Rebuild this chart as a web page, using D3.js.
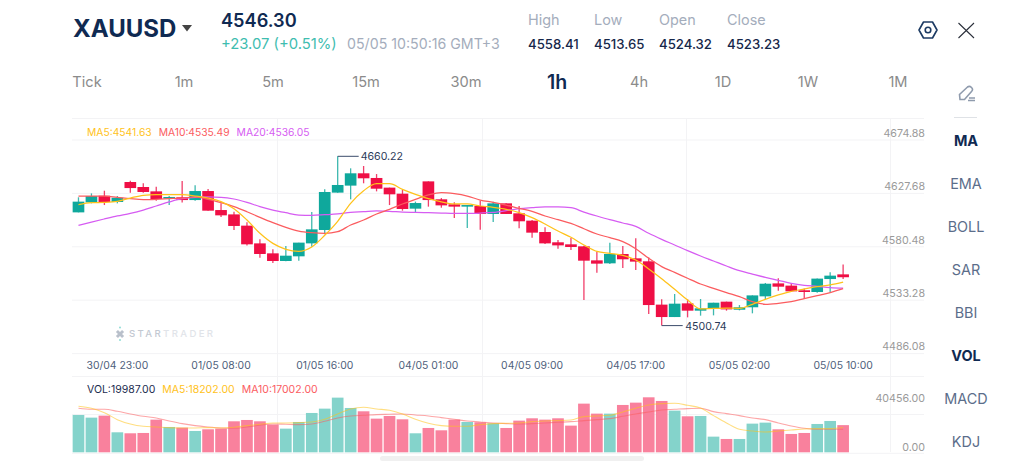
<!DOCTYPE html>
<html>
<head>
<meta charset="utf-8">
<title>XAUUSD</title>
<script src="https://cdn.jsdelivr.net/npm/d3@7/dist/d3.min.js"></script>
<style>
  html, body { margin: 0; padding: 0; background: #fff; overflow: hidden; }
  svg { display: block; }
  text { font-family: Inter, "Open Sans", sans-serif; }
</style>
</head>
<body>
<svg id="chart" width="1024" height="471"></svg>
<script>
// One row per hourly candle: open, high, low, close
const candles = [
  [4607.4,4621.6,4607.4,4617.5],[4616.8,4625.3,4615.9,4622.8],[4623.1,4627.8,4614.3,4617.2],[4617.2,4622.8,4615.9,4621.2],
  [4636.0,4637.3,4625.9,4630.3],[4631.3,4634.8,4625.9,4626.6],[4627.2,4631.6,4618.4,4620.0],[4620.3,4622.8,4614.3,4621.9],
  [4621.6,4636.9,4616.8,4619.0],[4619.0,4632.9,4618.4,4627.5],[4627.5,4629.4,4609.0,4609.0],[4609.6,4615.9,4603.0,4604.6],
  [4605.5,4608.0,4590.8,4594.6],[4594.9,4598.0,4576.3,4577.3],[4578.2,4582.0,4564.7,4568.2],[4568.8,4572.6,4559.7,4561.6],
  [4561.6,4575.7,4561.3,4566.6],[4566.0,4578.9,4561.9,4578.9],[4578.2,4607.7,4575.1,4591.4],[4590.8,4629.1,4586.7,4626.6],
  [4626.0,4660.22,4626.0,4633.2],[4632.6,4648.9,4619.7,4644.2],[4644.2,4651.1,4634.8,4639.5],[4639.8,4643.5,4627.2,4629.7],
  [4630.7,4630.7,4614.3,4624.4],[4625.0,4628.5,4609.0,4610.6],[4610.9,4617.5,4607.4,4616.2],[4636.6,4636.6,4612.8,4619.0],
  [4619.7,4620.9,4611.8,4614.0],[4615.0,4616.9,4602.1,4612.8],[4612.8,4614.3,4592.7,4614.3],[4613.4,4618.4,4591.1,4605.9],
  [4605.9,4617.5,4598.3,4615.9],[4615.9,4615.9,4605.9,4605.9],[4606.5,4613.4,4592.4,4599.0],[4599.6,4600.2,4583.6,4588.3],
  [4588.9,4593.3,4577.6,4578.2],[4579.2,4581.4,4573.2,4576.3],[4577.3,4583.3,4572.0,4574.8],[4575.4,4576.0,4524.8,4561.9],
  [4562.2,4570.1,4550.6,4559.1],[4559.4,4578.9,4558.8,4568.2],[4568.2,4575.7,4555.0,4563.2],[4564.1,4583.0,4553.1,4561.0],
  [4561.3,4565.0,4511.7,4520.1],[4520.5,4525.5,4500.74,4508.8],[4508.8,4530.5,4508.8,4521.4],[4521.7,4525.5,4508.5,4514.8],
  [4514.8,4525.8,4510.1,4517.0],[4516.7,4522.3,4510.4,4522.3],[4523.3,4523.3,4514.8,4516.0],[4515.7,4520.1,4515.1,4518.0],
  [4518.0,4529.2,4512.3,4529.2],[4528.3,4540.9,4525.5,4540.2],[4540.5,4545.3,4533.6,4537.4],[4538.4,4540.5,4532.4,4533.0],
  [4534.0,4535.8,4526.1,4532.4],[4532.4,4545.0,4531.8,4545.0],[4544.6,4550.9,4532.4,4547.8],[4549.0,4558.41,4544.6,4546.30]
];

const ma5 = [4614.7,4616.5,4616.8,4617.8,4620.9,4623.5,4624.1,4624.1,4624.1,4622.8,4620.9,4617.5,4610.9,4600.2,4587.7,4578.2,4572.6,4570.7,4574.8,4585.8,4599.0,4615.9,4627.8,4634.4,4634.4,4629.1,4624.4,4620.3,4617.2,4615.3,4615.3,4613.4,4612.1,4610.3,4607.1,4602.4,4596.4,4589.8,4583.9,4576.7,4570.7,4568.8,4566.9,4562.5,4554.1,4544.9,4534.9,4524.9,4516.4,4517.0,4517.3,4517.0,4520.8,4525.5,4529.6,4533.0,4535.2,4537.4,4539.0,4541.63];
const ma10 = [4622.8,4622.8,4622.8,4621.6,4620.3,4619.4,4619.7,4620.3,4620.9,4621.9,4619.7,4616.5,4612.8,4608.0,4602.7,4597.7,4593.3,4589.8,4588.3,4587.7,4589.2,4595.5,4600.2,4605.9,4610.3,4615.3,4619.7,4623.8,4626.0,4625.0,4622.8,4619.0,4616.9,4614.3,4611.2,4608.4,4604.0,4600.5,4597.0,4592.0,4587.0,4583.6,4579.8,4573.2,4564.1,4556.3,4550.9,4545.3,4539.9,4535.8,4531.8,4528.0,4523.3,4520.8,4521.7,4523.3,4526.1,4528.9,4531.8,4535.49];
const ma20 = [4595.2,4598.3,4601.2,4604.0,4606.5,4609.6,4613.4,4617.2,4620.3,4621.6,4621.9,4621.6,4620.0,4616.8,4612.8,4609.6,4607.1,4604.9,4604.6,4605.2,4605.9,4607.4,4608.0,4608.7,4608.4,4607.7,4607.4,4607.1,4606.8,4606.5,4606.5,4606.8,4607.4,4609.0,4610.9,4611.8,4612.5,4612.5,4611.8,4607.7,4604.0,4600.5,4597.4,4594.2,4587.7,4582.0,4576.7,4571.3,4566.3,4561.6,4556.9,4552.5,4549.3,4546.2,4543.4,4540.5,4538.7,4537.7,4536.5,4536.05];

const volumes = [27460,25500,26970,14710,13980,14220,24030,18630,18140,15690,16920,17410,22800,23780,22800,20350,17410,22310,28930,32120,40210,32610,30160,24760,26730,24270,13980,17900,16180,24030,22310,22070,21330,17900,23290,25010,24030,25010,19620,35800,28440,28440,34820,36530,40456,37760,30650,26480,26730,11520,9810,9810,21090,21820,16920,13490,14220,20840,23050,19987];
const volMa5 = [33840,32370,29180,24030,20840,19130,18640,18140,17900,17900,18140,17900,18390,19620,20600,21580,21580,21820,22310,24270,28200,31880,33100,31880,30900,28200,24270,21330,19620,19130,19130,20350,21090,21330,21580,22560,23050,23290,23780,26240,26730,27220,29670,32370,34820,35800,36040,34570,32610,26970,21580,16920,15690,14960,15690,16430,17160,17410,17410,18202];
const volMa10 = [32370,31630,31630,30160,28200,26480,25260,23050,21090,19620,18640,17900,17650,18640,19860,20840,20600,20350,20840,22800,25260,26730,27220,27710,27950,28200,27460,26730,25500,24270,23050,22310,21580,21090,20840,21090,21580,22070,22560,23290,24030,24770,26480,28200,29670,31140,31630,32120,32370,29910,28440,26970,25260,24030,21580,19370,17650,16920,16920,17002];

const volumeUp = [1,1,0,1,0,0,0,1,0,1,0,0,0,0,0,0,1,1,1,1,1,1,0,0,0,0,1,0,0,0,1,0,1,0,0,0,0,0,0,0,0,1,0,0,0,0,1,0,1,1,0,1,1,1,0,0,0,1,1,0];

const priceTicks = ["4674.88", "4627.68", "4580.48", "4533.28", "4486.08"];
const volumeTicks = [40456, 0];
const timeTicks = [[3,"30/04 23:00"],[11,"01/05 08:00"],[19,"01/05 16:00"],[27,"04/05 01:00"],[35,"04/05 09:00"],[43,"04/05 17:00"],[51,"05/05 02:00"],[59,"05/05 10:00"]];
const intervals = ["Tick","1m","5m","15m","30m","1h","4h","1D","1W","1M"];
const indicators = ["MA","EMA","BOLL","SAR","BBI","VOL","MACD","KDJ"];
const activeIndicators = ["MA","VOL"];
const quoteFields = [["High","4558.41"],["Low","4513.65"],["Open","4524.32"],["Close","4523.23"]];
const priceLegend = [["MA5:4541.63","#ffc21a"],["MA10:4535.49","#fb5c5f"],["MA20:4536.05","#d65cf2"]];
const volumeLegend = [["VOL:19987.00","#1c2d4f"],["MA5:18202.00","#ffc21a"],["MA10:17002.00","#fb5c5f"]];
const HIGH_LABEL = 4660.22, LOW_LABEL = 4500.74;

const UP = "#0fa89c", DOWN = "#ef0f45";
const UP_VOL = "#84d3cb", DOWN_VOL = "#f9819d";
const MA5_C = "#ffc21a", MA10_C = "#fb5c5f", MA20_C = "#d65cf2";
const NAVY = "#0f2a52", GRID = "#f3f3f5";

const svg = d3.select("#chart");
const LEFT = 72, RIGHT_GRID = 924, STEP = 12.96;

// Time, price and volume scales
const x = d3.scaleBand().domain(d3.range(candles.length)).range([LEFT, LEFT + STEP * candles.length]).paddingInner(0.1).paddingOuter(0.05);
const cx = i => x(i) + x.bandwidth() / 2;
const y = d3.scaleLinear().domain([LOW_LABEL, HIGH_LABEL]).range([325.6, 156.3]);
const axisY = d3.scalePoint().domain(priceTicks).range([139, 352.6]);
const volY = d3.scaleLinear().domain([0, 40456]).range([452.3, 397.3]);

// Frame lines and vertical separators
const grid = svg.append("g").attr("stroke", GRID).attr("stroke-width", 1);
[118.5, 376.5, 414.5].forEach(v => grid.append("line").attr("x1", LEFT).attr("x2", RIGHT_GRID).attr("y1", v).attr("y2", v));
[277.5, 482.5, 686.5, 890.5].forEach(v => grid.append("line").attr("x1", v).attr("x2", v).attr("y1", 118).attr("y2", 452));

// Right-hand price axis; its tick lines double as the horizontal grid
const priceAxis = svg.append("g").attr("transform", `translate(${RIGHT_GRID},0.5)`)
  .call(d3.axisRight(axisY).tickSizeInner(LEFT - RIGHT_GRID).tickSizeOuter(0));
priceAxis.select(".domain").remove();
priceAxis.selectAll("line").attr("stroke", GRID);
priceAxis.selectAll("text").attr("x", 1).attr("dy", "-3.2px").attr("text-anchor", "end")
  .attr("fill", "#9a9a9a").style("font-size", "10.7px").style("font-family", "Inter, sans-serif");

// Volume axis
const volumeAxis = svg.append("g").attr("transform", `translate(${RIGHT_GRID},0.5)`)
  .call(d3.axisRight(volY).tickValues(volumeTicks).tickSizeInner(LEFT - RIGHT_GRID).tickSizeOuter(0).tickFormat(d3.format(".2f")));
volumeAxis.select(".domain").remove();
volumeAxis.selectAll("line").attr("stroke", GRID).attr("opacity", d => d === 0 ? 1 : 0);
volumeAxis.selectAll("text").attr("x", 1).attr("text-anchor", "end")
  .attr("dy", d => d === 0 ? "-2.6px" : "3.6px")
  .attr("fill", "#9a9a9a").style("font-size", "10.7px").style("font-family", "Inter, sans-serif");

// Watermark: emblem, then the two-tone word mark
const mark = svg.append("g");
mark.append("path").attr("transform", "translate(120,334) rotate(45)").attr("fill", "#b9c0cb")
  .attr("d", d3.symbol(d3.symbolCross, 42)());
mark.append("circle").attr("cx", 120).attr("cy", 327.5).attr("r", 1).attr("fill", "#8fdcd6");
mark.append("circle").attr("cx", 120).attr("cy", 340).attr("r", 1).attr("fill", "#8fdcd6");
const word = mark.append("text").attr("x", 129).attr("y", 337).attr("font-size", 9.6).attr("font-weight", 500).attr("letter-spacing", "2.35px");
word.append("tspan").attr("fill", "#c3c9d2").text("STAR");
word.append("tspan").attr("fill", "#e1e4e9").text("TRADER");

// Candles
const candle = svg.append("g").selectAll("g").data(candles).join("g");
candle.append("line")
  .attr("x1", (d, i) => cx(i)).attr("x2", (d, i) => cx(i))
  .attr("y1", d => y(d[1])).attr("y2", d => y(d[2]))
  .attr("stroke", d => d[3] >= d[0] ? UP : DOWN).attr("stroke-width", 1.3).attr("opacity", 0.8);
candle.append("rect")
  .attr("x", (d, i) => x(i)).attr("width", x.bandwidth())
  .attr("y", d => y(Math.max(d[0], d[3])))
  .attr("height", d => Math.max(1.5, Math.abs(y(d[0]) - y(d[3]))))
  .attr("fill", d => d[3] >= d[0] ? UP : DOWN);

// Moving averages over the price pane
const priceLine = d3.line().x((d, i) => cx(i)).y(d => y(d)).curve(d3.curveMonotoneX);
[[ma20, MA20_C], [ma10, MA10_C], [ma5, MA5_C]].forEach(([series, color]) => {
  svg.append("path").attr("d", priceLine(series)).attr("fill", "none").attr("stroke", color).attr("stroke-width", 1.25);
});

// Callouts for the visible high and low
const highIndex = candles.findIndex(d => d[1] === HIGH_LABEL);
const lowIndex = candles.findIndex(d => d[2] === LOW_LABEL);
svg.append("line").attr("x1", cx(highIndex)).attr("x2", cx(highIndex) + 21).attr("y1", y(HIGH_LABEL)).attr("y2", y(HIGH_LABEL)).attr("stroke", "#3b4c6b");
svg.append("text").attr("x", cx(highIndex) + 23).attr("y", y(HIGH_LABEL) + 4).attr("font-size", 10.6).attr("fill", "#2b3a58").text(HIGH_LABEL.toFixed(2));
svg.append("line").attr("x1", cx(lowIndex)).attr("x2", cx(lowIndex) + 21).attr("y1", y(LOW_LABEL)).attr("y2", y(LOW_LABEL)).attr("stroke", "#3b4c6b");
svg.append("text").attr("x", cx(lowIndex) + 23.5).attr("y", y(LOW_LABEL) + 4).attr("font-size", 10.6).attr("fill", "#2b3a58").text(LOW_LABEL.toFixed(2));

// Legends
const legend = (items, startX, baseline, size) => {
  const t = svg.append("text").attr("x", startX).attr("y", baseline).attr("font-size", size);
  items.forEach((it, i) => t.append("tspan").attr("dx", i ? 7 : 0).attr("fill", it[1]).text(it[0]));
};
legend(priceLegend, 87, 136, 10.3);
legend(volumeLegend, 87, 393, 10.5);

// Time labels
svg.append("g").selectAll("text").data(timeTicks).join("text")
  .attr("x", d => cx(d[0])).attr("y", 369).attr("text-anchor", "middle")
  .attr("font-size", 10.4).attr("fill", "#4f5f7c").text(d => d[1]);

// Volume bars and their averages
svg.append("g").selectAll("rect").data(volumes).join("rect")
  .attr("x", (d, i) => x(i)).attr("width", x.bandwidth())
  .attr("y", d => volY(d)).attr("height", d => volY(0) - volY(d))
  .attr("fill", (d, i) => volumeUp[i] ? UP_VOL : DOWN_VOL);
const volLine = d3.line().x((d, i) => cx(i)).y(d => volY(d)).curve(d3.curveMonotoneX);
[[volMa10, MA10_C], [volMa5, MA5_C]].forEach(([series, color]) => {
  svg.append("path").attr("d", volLine(series)).attr("fill", "none").attr("stroke", color).attr("stroke-width", 1.1).attr("opacity", 0.55);
});

// Scrollbar under the volume pane
svg.append("rect").attr("x", 380).attr("y", 456).attr("width", 264).attr("height", 5).attr("rx", 2.5).attr("fill", "#f0f0f0");

// Quote header
svg.append("text").attr("x", 73).attr("y", 37).attr("font-size", 24).attr("font-weight", 700).attr("fill", NAVY).text("XAUUSD");
svg.append("path").attr("d", d3.line()([[182, 25], [192, 25], [187, 31.5]])).attr("fill", "#444");
svg.append("text").attr("x", 221).attr("y", 27).attr("font-size", 18.2).attr("font-weight", 600).attr("fill", NAVY).text("4546.30");
svg.append("text").attr("x", 221).attr("y", 49).attr("font-size", 14.8).attr("fill", "#3fbdb0").text("+23.07 (+0.51%)");
svg.append("text").attr("x", 347).attr("y", 49).attr("font-size", 14.2).attr("fill", "#a4adbc").text("05/05 10:50:16 GMT+3");
quoteFields.forEach((f, i) => {
  const fx = [528, 594, 659, 727][i];
  svg.append("text").attr("x", fx).attr("y", 25).attr("font-size", 14.4).attr("fill", "#a4adbc").text(f[0]);
  svg.append("text").attr("x", fx).attr("y", 49).attr("font-size", 13.2).attr("font-weight", 500).attr("fill", "#16274a").text(f[1]);
});

// Settings and close icons
svg.append("path").attr("transform", "translate(928,30)")
  .attr("d", "M-4.5,-8 L4.5,-8 L9,0 L4.5,8 L-4.5,8 L-9,0 Z").attr("fill", "none").attr("stroke", "#1c3a63").attr("stroke-width", 1.6).attr("stroke-linejoin", "round");
svg.append("circle").attr("cx", 928).attr("cy", 30).attr("r", 2.8).attr("fill", "none").attr("stroke", "#1c3a63").attr("stroke-width", 1.6);
svg.append("path").attr("d", "M958.5,23L974,38M974,23L958.5,38").attr("stroke", "#2a2f3a").attr("stroke-width", 1.1).attr("fill", "none");

// Interval tabs
const tabX = [87, 184, 273, 366, 466, 557, 639, 723, 808, 898];
svg.append("g").selectAll("text").data(intervals).join("text")
  .attr("x", (d, i) => tabX[i]).attr("y", d => d === "1h" ? 89 : 87).attr("text-anchor", "middle")
  .attr("font-size", d => d === "1h" ? 19.5 : 14.6)
  .attr("font-weight", d => d === "1h" ? 600 : 400)
  .attr("fill", d => d === "1h" ? NAVY : "#8b8b8b").text(d => d);

// Indicator column with the drawing tool on top
svg.append("g").attr("transform", "translate(966,93)").attr("fill", "none").attr("stroke", "#8f9bad").attr("stroke-width", 1.6)
  .call(g => {
    g.append("path").attr("d", "M-6,6.5 L-6.5,1.5 L1.5,-6 Q3.5,-7.5 5.5,-5.5 Q7.5,-3.5 5.5,-1.5 L-1.5,6.5 Z");
    g.append("path").attr("d", "M3,5 H9 M2,7.5 H9");
  });
svg.append("line").attr("x1", 954).attr("x2", 977).attr("y1", 117.5).attr("y2", 117.5).attr("stroke", "#dfe2e6");
const indicatorY = d3.scalePoint().domain(indicators).range([141, 442]);
svg.append("g").selectAll("text").data(indicators).join("text")
  .attr("x", 966).attr("y", d => indicatorY(d) + 4.7).attr("text-anchor", "middle")
  .attr("font-size", 14.4)
  .attr("font-weight", d => activeIndicators.includes(d) ? 700 : 400)
  .attr("fill", d => activeIndicators.includes(d) ? NAVY : "#5b6d8a").text(d => d);
</script>
</body>
</html>
